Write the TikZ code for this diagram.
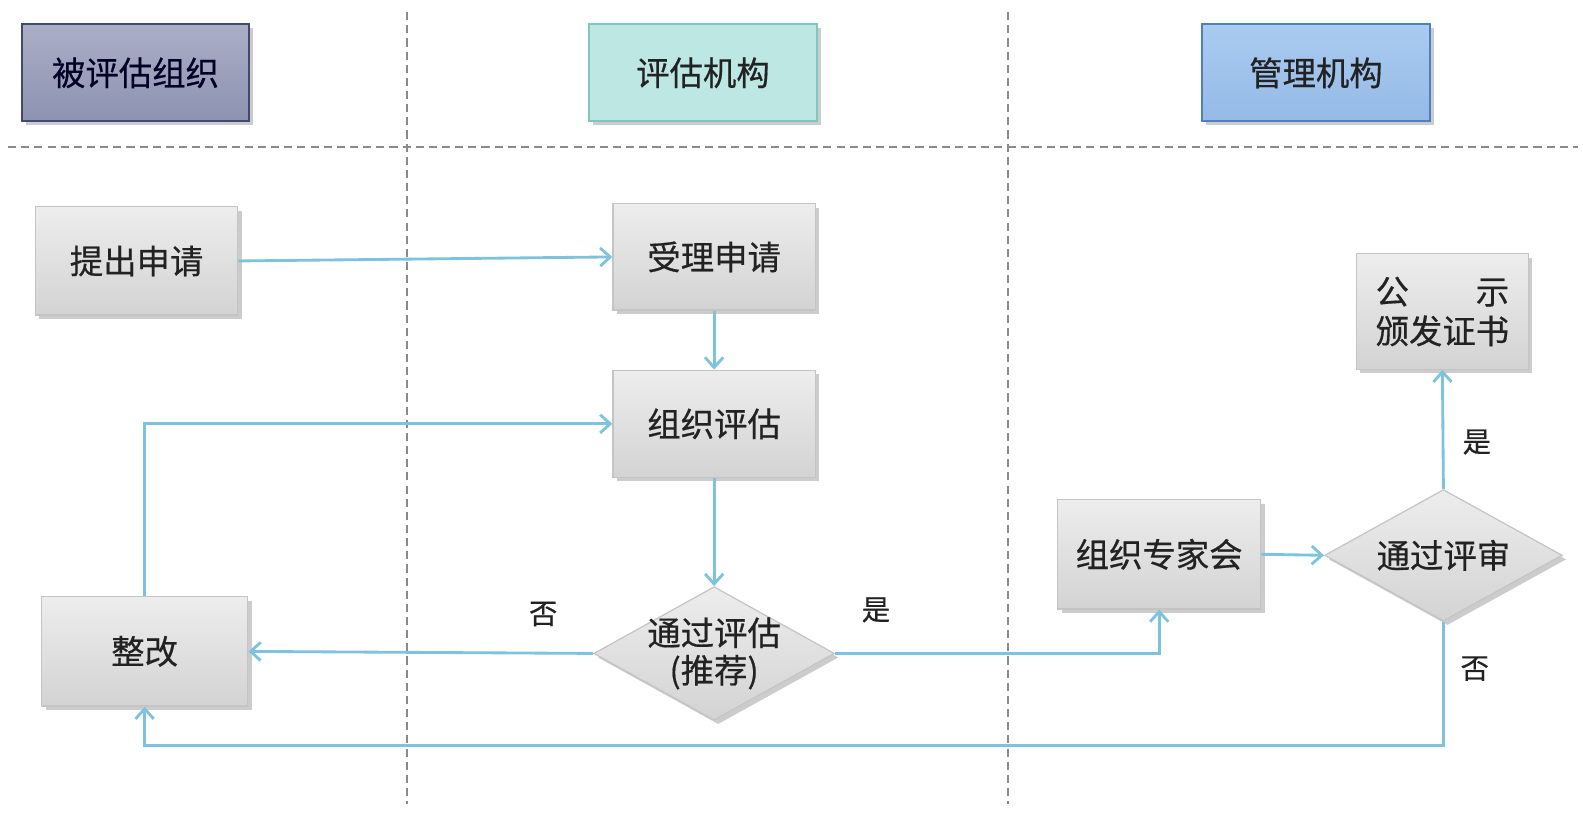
\documentclass[tikz,border=0pt]{standalone}
\usepackage{fontspec}
\setmainfont{Noto Sans CJK SC}[FakeBold=0.5]
\usetikzlibrary{shapes.geometric,arrows.meta,shadows}
\definecolor{lineblue}{HTML}{7DC3DE}
\definecolor{boxtop}{HTML}{EDEDED}
\definecolor{boxbot}{HTML}{D3D3D3}
\definecolor{boxborder}{HTML}{C4C4C4}
\definecolor{txt}{HTML}{222222}
\definecolor{hatop}{HTML}{ABAEC6}
\definecolor{habot}{HTML}{8C92B0}
\definecolor{haborder}{HTML}{3E4C72}
\definecolor{hbfill}{HTML}{BDE7E3}
\definecolor{hbborder}{HTML}{80C6BE}
\definecolor{hctop}{HTML}{AACBF0}
\definecolor{hcbot}{HTML}{94BAE6}
\definecolor{hcborder}{HTML}{4E7FC0}
\definecolor{sepgray}{HTML}{8A8A8A}
\tikzset{
  cjk/.style={font=\fontsize{16.5}{19}\selectfont, text=txt},
  shad/.style={drop shadow={shadow xshift=2pt, shadow yshift=-2pt, fill=black, opacity=0.2}},
  hdr/.style={rectangle, inner sep=0, minimum height=48pt, cjk, line width=0.9pt, shad},
  proc/.style={rectangle, draw=boxborder, line width=0.6pt, top color=boxtop, bottom color=boxbot,
    inner sep=0, cjk, shad},
  decis/.style={diamond, draw=boxborder, line width=0.6pt, top color=boxtop, bottom color=boxbot,
    inner sep=0, shad},
  conn/.style={draw=lineblue, line width=1.4pt, -{Straight Barb[length=5pt,width=9pt]}},
  sepline/.style={draw=sepgray, line width=1pt, dash pattern=on 4pt off 2.5pt},
  lbl/.style={font=\fontsize{14}{16}\selectfont, text=txt}
}
\begin{document}%
\begin{tikzpicture}[x=0.5pt,y=-0.5pt]%
\useasboundingbox (0,0) rectangle (1565,823);
% separators
\coordinate (v1t) at (402,12); \coordinate (v1b) at (402,795);
\coordinate (v2t) at (997,12); \coordinate (v2b) at (997,795);
\coordinate (hl) at (8,145); \coordinate (hr) at (1560,145);
\draw[sepline] (v1t) -- (v1b);
\draw[sepline] (v2t) -- (v2b);
\draw[sepline] (hl) -- (hr);
% headers
\node[hdr, draw=haborder, top color=hatop, bottom color=habot, minimum width=112pt, text=black!85!blue] (h1) at (134,72) {被评估组织};
\node[hdr, draw=hbborder, fill=hbfill, minimum width=112.5pt] (h2) at (695,72) {评估机构};
\node[hdr, draw=hcborder, top color=hctop, bottom color=hcbot, minimum width=113pt] (h3) at (1301,72) {管理机构};
% process nodes
\node[proc, minimum width=100pt, minimum height=53.5pt] (tc) at (135,258) {提出申请};
\node[proc, minimum width=100pt, minimum height=52.5pt] (sl) at (706,254) {受理申请};
\node[proc, minimum width=100pt, minimum height=53pt] (zp) at (706,419) {组织评估};
\node[decis, minimum width=119pt, minimum height=66pt,
  label={[cjk, align=center, font=\fontsize{16.5}{18.5}\selectfont]center:通过评估\\(推荐)}] (d1) at (706,646) {};
\node[proc, minimum width=102pt, minimum height=54pt] (zg) at (143,644) {整改};
\node[proc, minimum width=100.5pt, minimum height=54pt] (zj) at (1146,548) {组织专家会};
\node[decis, minimum width=117.5pt, minimum height=65pt,
  label={[cjk]center:通过评审}] (d2) at (1427,549) {};
\node[proc, minimum width=85pt, minimum height=57pt, align=center,
  font=\fontsize{16.5}{19.5}\selectfont] (gs) at (1426,308) {\makebox[66pt]{公\hfill 示}\\颁发证书};
% connectors
\coordinate (c1) at (1427,737);
\draw[conn] (tc.east) -- (sl.west);
\draw[conn] (sl) -- (zp);
\draw[conn] (zp) -- (d1.north);
\draw[conn] (d1.west) -- (zg.east);
\draw[conn] (d1.east) -| (zj.south);
\draw[conn] (zg.north) |- (zp.west);
\draw[conn] (zj.east) -- (d2.west);
\draw[conn] (d2.north) -- (gs.south);
\draw[conn] (d2.south) -- (c1) -| (zg.south);
% labels
\node[lbl] (n1) at (537,607) {否};
\node[lbl] (y1) at (866,603) {是};
\node[lbl] (y2) at (1460,437) {是};
\node[lbl] (n2) at (1458,661) {否};
\end{tikzpicture}%
\end{document}
